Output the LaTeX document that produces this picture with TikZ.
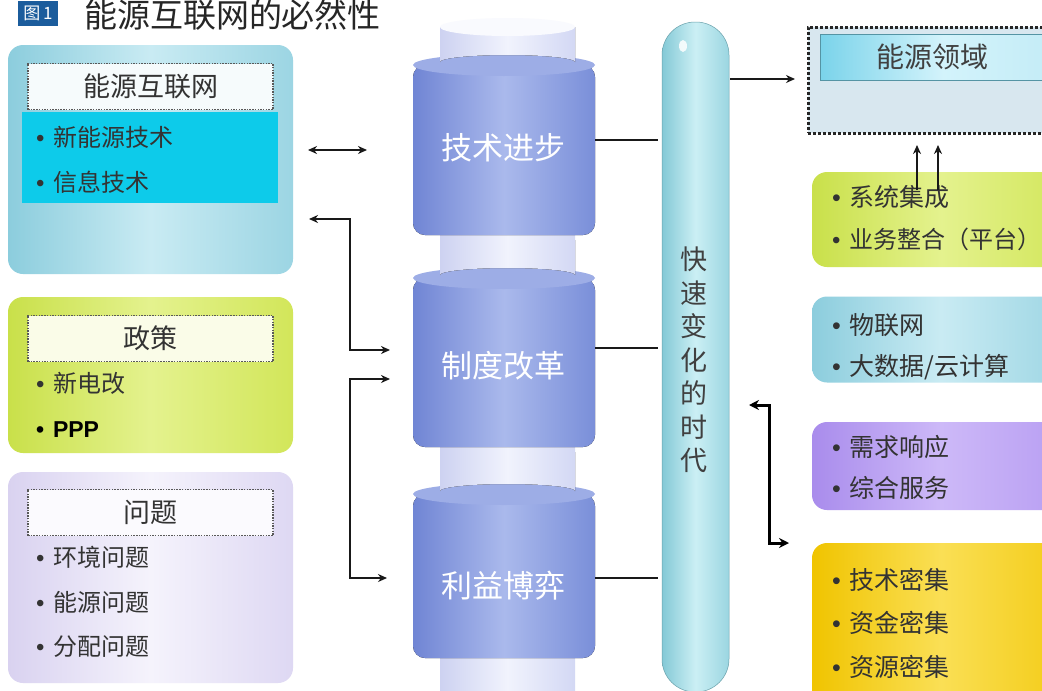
\documentclass[tikz,border=0pt]{standalone}
\usepackage{fontspec}
\setmainfont{Liberation Sans}
\newfontfamily\cjk{Noto Sans CJK SC}
\usetikzlibrary{arrows.meta}
\definecolor{tblue}{HTML}{1B5C9C}
\definecolor{cyL}{HTML}{8CCDDD}\definecolor{cyM}{HTML}{C9EBF3}\definecolor{cyR}{HTML}{9CD5E3}
\definecolor{cyIn}{HTML}{0DCBEA}
\definecolor{grL}{HTML}{C9E04A}\definecolor{grM}{HTML}{E4F28E}\definecolor{grR}{HTML}{D2E65A}
\definecolor{lvL}{HTML}{D9D2F0}\definecolor{lvM}{HTML}{F5F3FC}\definecolor{lvR}{HTML}{DED8F3}
\definecolor{puL}{HTML}{A98CEC}\definecolor{puM}{HTML}{CDB9F8}\definecolor{puR}{HTML}{B79DF2}
\definecolor{yeL}{HTML}{F0C400}\definecolor{yeM}{HTML}{FADF55}\definecolor{yeR}{HTML}{F3CB14}
\definecolor{pbL}{HTML}{7085D4}\definecolor{pbM}{HTML}{AAB9EC}\definecolor{pbR}{HTML}{7A8FD9}
\definecolor{pbT}{HTML}{9DADE6}
\definecolor{pwL}{HTML}{CDD2F1}\definecolor{pwM}{HTML}{F1F3FD}\definecolor{pwR}{HTML}{D3D8F4}
\definecolor{coL}{HTML}{84C9D6}\definecolor{coM}{HTML}{CBEFF4}\definecolor{coR}{HTML}{9BD6E1}
\definecolor{domF}{HTML}{D8E7EF}
\definecolor{hdL}{HTML}{7AD3EA}\definecolor{hdM}{HTML}{D3F3FB}\definecolor{hdR}{HTML}{C2EBF6}
\newcommand\mybul{{\rmfamily\textbullet}\hspace{9pt}}
\begin{document}
\begin{tikzpicture}[x=1pt,y=-1pt,
  >={Stealth[length=9pt,width=8pt]},
  every node/.style={inner sep=0pt, outer sep=0pt},
  cylbox/.style={rounded corners=15pt, draw=none},
  cyanS/.style={left color=cyL, right color=cyR, middle color=cyM},
  greenS/.style={left color=grL, right color=grR, middle color=grM},
  lavS/.style={left color=lvL, right color=lvR, middle color=lvM},
  purS/.style={left color=puL, right color=puR, middle color=puM},
  yelS/.style={left color=yeL, right color=yeR, middle color=yeM},
  pbS/.style={left color=pbL, right color=pbR, middle color=pbM},
  pwS/.style={left color=pwL, right color=pwR, middle color=pwM},
  colS/.style={left color=coL, right color=coR, middle color=coM},
  hdS/.style={left color=hdL, right color=hdR, middle color=hdM},
  tbox/.style={draw=black!65, dash pattern=on 1.5pt off 1.2pt, line width=1.8pt,
    font=\cjk\fontsize{27}{27}\selectfont, text=black!80},
  item/.style={anchor=west, font=\cjk\fontsize{24}{24}\selectfont, text=black!80},
  ritem/.style={anchor=west, font=\cjk\fontsize{25}{25}\selectfont, text=black!80},
  plabel/.style={font=\cjk\fontsize{31}{31}\selectfont, text=white},
  conn/.style={line width=1.6pt, draw=black!90},
  bconn/.style={line width=3pt, draw=black}
]
\useasboundingbox (0,0) rectangle (1042,691);
\clip (0,0) rectangle (1042,691);
\fill[white] (0,0) rectangle (1042,691);

% ---------- title ----------
\node[fill=tblue, text=white, font=\cjk\fontsize{17}{17}\selectfont,
  minimum width=40pt, minimum height=25pt] (fig) at (38,13) {图\,1};
\node[anchor=west, font=\cjk\fontsize{33}{33}\selectfont, text=black!85] (title) at (84,15) {能源互联网的必然性};

% ---------- left boxes ----------
\node[cylbox, cyanS, minimum width=285pt, minimum height=229pt] (b1) at (150.5,159.5) {};
\node[tbox, fill=white!92!cyL, minimum width=245pt, minimum height=46pt] (t1) at (150.5,86.5) {能源互联网};
\node[fill=cyIn, minimum width=256pt, minimum height=91pt] (c1) at (150,157.5) {};
\node[item] (i11) at (36,137) {\mybul 新能源技术};
\node[item] (i12) at (36,182) {\mybul 信息技术};

\node[cylbox, greenS, minimum width=285pt, minimum height=156pt] (b2) at (150.5,375) {};
\node[tbox, fill=white!80!grM, minimum width=245pt, minimum height=46pt] (t2) at (150.5,338.5) {政策};
\node[item] (i21) at (36,383) {\mybul 新电改};
\node[item, font=\bfseries\fontsize{23}{23}\selectfont, text=black] (i22) at (36,430) {\mybul PPP};

\node[cylbox, lavS, minimum width=285pt, minimum height=211pt] (b3) at (150.5,577.5) {};
\node[tbox, fill=white!60!lvM, minimum width=245pt, minimum height=46pt] (t3) at (150.5,512.5) {问题};
\node[item] (i31) at (36,557) {\mybul 环境问题};
\node[item] (i32) at (36,602) {\mybul 能源问题};
\node[item] (i33) at (36,647) {\mybul 分配问题};

% ---------- central pillar ----------
\fill[pwS] (440,27) rectangle (575,700);
% segment 1
\fill[pbS, rounded corners=12pt] (413,65) rectangle (595,235);
\fill[pbT] (504,65) ellipse [x radius=91pt, y radius=11pt];
\fill[pwS] (440,27) -- (440,62) arc[start angle=180, end angle=0, x radius=67.5pt, y radius=7pt] -- (575,27) -- cycle;
\fill[white!60!pwM] (507.5,27) ellipse [x radius=67.5pt, y radius=9pt];
% segment 2
\fill[pbS, rounded corners=12pt] (413,278) rectangle (595,447);
\fill[pbT] (504,278) ellipse [x radius=91pt, y radius=11pt];
\fill[pwS] (440,240) -- (440,275) arc[start angle=180, end angle=0, x radius=67.5pt, y radius=7pt] -- (575,240) -- cycle;
% segment 3
\fill[pbS, rounded corners=12pt] (413,494) rectangle (595,658);
\fill[pbT] (504,494) ellipse [x radius=91pt, y radius=11pt];
\fill[pwS] (440,452) -- (440,491) arc[start angle=180, end angle=0, x radius=67.5pt, y radius=7pt] -- (575,452) -- cycle;

\node[plabel] (p1) at (503,148) {技术进步};
\node[plabel] (p2) at (503,366) {制度改革};
\node[plabel] (p3) at (503,586) {利益博弈};

% ---------- tall column ----------
\node[colS, rounded corners=33pt, minimum width=67pt, minimum height=670pt, draw=coL!80!black, line width=0.5pt] (col) at (695.5,357) {};
\fill[white, opacity=.85] (683,46) ellipse [x radius=4pt, y radius=6pt];
\node[font=\cjk\fontsize{27}{33.5}\selectfont, align=center, text=black!75] (vt) at (694,360)
  {快\\速\\变\\化\\的\\时\\代};

% ---------- right side ----------
\node[draw=black!85, dash pattern=on 3pt off 2pt, line width=3pt, fill=domF,
  minimum width=262pt, minimum height=106pt] (dom) at (939,80) {};
\node[hdS, minimum width=246pt, minimum height=46pt, draw=hdL!70!black, line width=0.4pt] (hdr) at (943,57) {};
\node[font=\cjk\fontsize{28}{28}\selectfont, text=black!75] (hdt) at (932,57) {能源领域};

\node[cylbox, greenS, minimum width=258pt, minimum height=95pt] (r1) at (941,219.5) {};
\node[ritem] (r11) at (832,197) {\mybul 系统集成};
\node[ritem, font=\cjk\fontsize{24}{24}\selectfont] (r12) at (832,239) {\mybul 业务整合（平台）};

\node[cylbox, cyanS, minimum width=258pt, minimum height=86pt] (r2) at (941,339.5) {};
\node[ritem] (r21) at (832,325) {\mybul 物联网};
\node[ritem] (r22) at (832,367) {\mybul 大数据/云计算};

\node[cylbox, purS, minimum width=258pt, minimum height=88pt] (r3) at (941,466) {};
\node[ritem] (r31) at (832,447) {\mybul 需求响应};
\node[ritem] (r32) at (832,488) {\mybul 综合服务};

\node[cylbox, yelS, minimum width=258pt, minimum height=170pt] (r4) at (941,628) {};
\node[ritem] (r41) at (832,580) {\mybul 技术密集};
\node[ritem] (r42) at (832,623) {\mybul 资金密集};
\node[ritem] (r43) at (832,667) {\mybul 资源密集};

% ---------- connectors ----------
\coordinate (a1l) at (308,150); \coordinate (a1r) at (367,150);
\draw[conn,<->] (a1l) -- (a1r);

\coordinate (e1a) at (309,219); \coordinate (e1b) at (390,350);
\draw[conn,<->] (e1a) -| (350,284) |- (e1b);

\coordinate (e2a) at (390,379); \coordinate (e2b) at (387,578);
\draw[conn,<->] (e2a) -| (350,480) |- (e2b);

\coordinate (s1) at (595,140); \coordinate (k1) at (658,140);
\coordinate (s2) at (595,348); \coordinate (k2) at (658,348);
\coordinate (s3) at (595,578); \coordinate (k3) at (658,578);
\draw[conn] (s1) -- (k1);
\draw[conn] (s2) -- (k2);
\draw[conn] (s3) -- (k3);

\coordinate (c0) at (730,79); \coordinate (d0) at (795,79);
\draw[conn,->] (c0) -- (d0);

\coordinate (u1a) at (917,190); \coordinate (u1b) at (917,145);
\coordinate (u2a) at (938,190); \coordinate (u2b) at (938,145);
\draw[conn,->] (u1a) -- (u1b);
\draw[conn,->] (u2a) -- (u2b);

\coordinate (v1) at (749,405); \coordinate (v2) at (789,543);
\draw[bconn,<->,>={Stealth[length=10pt,width=10pt]}] (v1) -| (769,474) |- (v2);
\end{tikzpicture}
\end{document}
